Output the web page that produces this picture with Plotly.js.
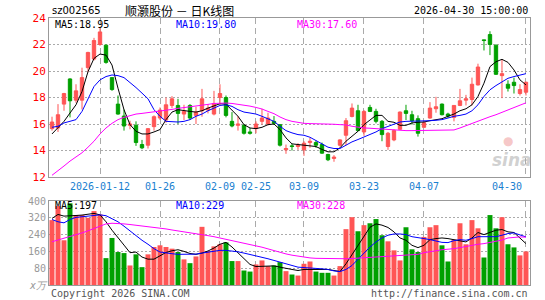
<!DOCTYPE html>
<html><head><meta charset="utf-8">
<script src="https://cdn.plot.ly/plotly-3.0.1.min.js"></script>
<style>html,body{margin:0;padding:0;background:#fff}#c{width:545px;height:300px}</style>
</head><body><div id="c"></div>
<script>
const dates = ["2025-12-29","2025-12-30","2025-12-31","2026-01-05","2026-01-06","2026-01-07","2026-01-08","2026-01-09",
"2026-01-12","2026-01-13","2026-01-14","2026-01-15","2026-01-16","2026-01-19","2026-01-20","2026-01-21","2026-01-22","2026-01-23",
"2026-01-26","2026-01-27","2026-01-28","2026-01-29","2026-01-30","2026-02-02","2026-02-03","2026-02-04","2026-02-05","2026-02-06",
"2026-02-09","2026-02-10","2026-02-11","2026-02-12","2026-02-13","2026-02-24","2026-02-25","2026-02-26","2026-02-27",
"2026-03-02","2026-03-03","2026-03-04","2026-03-05","2026-03-06","2026-03-09","2026-03-10","2026-03-11","2026-03-12","2026-03-13",
"2026-03-16","2026-03-17","2026-03-18","2026-03-19","2026-03-20","2026-03-23","2026-03-24","2026-03-25","2026-03-26","2026-03-27",
"2026-03-30","2026-03-31","2026-04-01","2026-04-02","2026-04-03","2026-04-07","2026-04-08","2026-04-09","2026-04-10",
"2026-04-13","2026-04-14","2026-04-15","2026-04-16","2026-04-17","2026-04-20","2026-04-21","2026-04-22","2026-04-23","2026-04-24",
"2026-04-27","2026-04-28","2026-04-29","2026-04-30"];

const openP = [15.65,15.7,17.5,19.4,17.8,17.8,20.25,20.9,22.0,21.95,
19.5,17.5,16.6,15.9,15.9,14.45,14.4,15.8,16.45,16.3,
17.4,17.4,16.75,17.4,16.65,17.0,17.05,16.75,18.0,18.0,
16.2,15.9,15.9,15.4,15.65,16.2,16.0,16.2,15.95,14.05,
14.35,14.3,14.05,14.6,14.6,14.45,13.7,13.4,14.4,15.15,
16.57,17.0,15.4,17.25,16.95,16.2,14.3,14.8,15.6,17.0,
16.7,16.4,15.75,16.45,17.15,17.5,16.75,16.5,17.4,17.8,
17.85,18.95,22.35,22.75,21.95,19.65,19.0,19.15,18.3,18.4];
const highP = [16.55,17.5,18.35,19.45,19.0,20.25,21.45,22.5,23.3,22.0,
19.5,18.15,17.1,16.25,16.2,14.8,15.7,16.65,17.25,18.0,
18.1,17.9,17.45,17.5,17.3,18.65,17.5,18.5,19.0,18.15,
16.9,16.6,16.0,15.7,16.2,17.15,16.85,16.6,16.0,14.45,
14.5,14.55,14.7,14.95,14.75,14.6,13.75,13.65,14.85,16.45,
17.55,17.45,17.05,17.45,17.15,16.3,15.4,15.6,16.95,17.45,
17.0,16.65,16.25,17.65,18.05,17.55,16.85,17.4,18.65,18.2,
19.5,20.55,22.35,23.0,22.0,20.9,19.3,19.5,19.0,19.2];
const lowP = [15.5,15.4,17.0,16.5,17.6,17.1,19.9,20.8,21.9,20.55,
18.5,16.7,15.5,15.6,14.35,14.1,14.15,15.5,16.3,16.1,
17.2,16.0,16.3,16.3,16.0,16.55,16.8,16.65,17.45,16.5,
15.75,15.5,15.2,15.2,15.3,15.95,15.9,15.95,14.3,13.75,
14.0,14.05,13.6,14.2,14.2,13.75,13.2,13.15,14.3,14.4,
16.5,15.45,15.1,16.9,16.05,14.7,14.05,14.7,15.55,16.3,
15.95,15.05,15.7,16.4,16.85,16.65,16.45,16.2,17.35,17.4,
17.4,18.9,21.55,21.2,19.7,17.95,18.45,18.3,18.15,18.15];
const closeP = [16.15,16.7,18.3,17.75,18.5,19.5,21.4,22.3,22.95,20.65,
18.6,16.75,15.85,16.0,14.6,14.2,15.65,16.55,17.05,17.45,
17.9,16.8,16.95,16.45,16.9,17.9,17.2,17.55,18.3,16.65,
15.85,16.0,15.3,15.3,16.0,16.45,16.45,16.05,14.4,14.15,
14.3,14.4,14.55,14.7,14.4,13.8,13.3,13.5,14.8,16.25,
17.2,15.5,16.95,16.95,16.2,15.2,15.3,15.5,16.9,16.8,
16.25,15.3,16.1,17.2,17.3,16.7,16.6,17.4,17.75,17.9,
19.0,20.3,22.3,22.0,19.75,19.8,18.7,18.9,18.6,19.15];

const ma5 = [15.25,15.7,16.2,16.83,17.45,18.45,19.95,20.95,21.28,21.2,
20.45,18.7,17.08,15.95,15.45,15.25,15.25,15.4,15.58,16.33,
16.9,17.08,17.0,16.95,16.9,17.0,17.2,17.38,17.53,17.5,
17.0,16.58,15.95,15.7,15.65,15.75,15.95,16.0,15.58,14.95,
14.5,14.45,14.4,14.4,14.3,14.08,13.9,13.9,14.2,14.7,
15.08,15.45,15.95,16.33,16.65,16.65,16.2,16.13,15.9,15.9,
16.08,16.13,16.15,16.25,16.33,16.4,16.58,16.75,17.0,17.15,
17.45,18.08,19.08,20.33,20.7,20.88,20.65,20.08,19.33,18.95];
const ma10 = [15.75,15.83,16.08,16.2,16.33,16.95,17.95,18.83,19.33,19.58,
19.7,19.65,19.5,19.15,18.75,18.33,17.9,17.08,16.58,16.2,
16.15,16.15,16.2,16.33,16.58,16.75,17.0,17.2,17.4,17.45,
17.33,17.08,16.9,16.83,16.75,16.58,16.4,16.2,15.83,15.5,
15.33,15.2,15.15,15.0,14.75,14.5,14.25,14.15,14.15,14.4,
14.65,14.83,15.0,15.2,15.4,15.65,15.83,16.0,16.15,16.2,
16.2,16.2,16.2,16.25,16.28,16.33,16.45,16.58,16.65,16.75,
17.0,17.45,18.08,18.58,18.9,19.15,19.45,19.58,19.7,19.8];
const ma30 = [12.13,12.45,12.83,13.2,13.5,13.83,14.25,14.7,15.25,15.7,
16.05,16.33,16.5,16.63,16.75,16.8,16.85,16.9,16.95,17.05,
17.1,17.18,17.23,17.28,17.33,17.4,17.48,17.55,17.58,17.58,
17.55,17.5,17.43,17.35,17.25,17.13,16.95,16.78,16.53,16.33,
16.2,16.1,16.05,16.03,16.03,16.0,16.0,15.98,15.95,15.93,
15.83,15.75,15.7,15.68,15.65,15.63,15.58,15.53,15.5,15.5,
15.5,15.5,15.5,15.5,15.53,15.53,15.55,15.55,15.7,15.88,
16.05,16.2,16.38,16.55,16.7,16.88,17.05,17.25,17.43,17.6];

const volume = [309,376,213,389,333,333,320,352,336,128,
224,157,152,93,146,85,146,181,189,181,
173,157,122,104,136,277,162,184,194,203,
114,114,69,64,98,117,90,93,109,66,
50,45,101,112,64,58,58,45,90,266,
323,256,285,294,314,237,208,165,117,275,
170,157,229,275,285,189,112,216,294,194,
309,270,131,333,270,323,194,179,141,160];
const volMa5 = [317,336,328,328,331,333,336,341,334,301,
261,228,190,154,157,133,123,123,141,155,
163,168,160,150,146,152,162,176,194,203,
181,152,123,98,88,88,88,91,85,78,
74,69,74,74,74,74,74,69,64,101,
144,192,234,275,291,285,274,253,224,213,
189,178,189,216,221,224,221,216,213,205,
224,250,240,250,261,264,253,250,224,197];
const volMa10 = [312,301,296,312,322,325,328,333,334,330,
317,301,280,258,232,213,194,173,157,152,
149,146,146,146,147,152,157,162,165,165,
163,158,152,146,139,133,125,117,109,101,
94,85,83,82,80,77,74,67,64,74,
93,122,154,181,205,224,237,243,243,240,
230,224,221,216,208,203,202,211,216,213,
221,230,230,229,230,237,245,248,240,229];
const volMa30 = [206,214,222,230,238,248,258,269,282,291,
294,294,291,288,285,282,278,275,270,267,
262,258,253,248,243,240,235,230,224,218,
211,206,200,194,187,180,172,163,155,148,
142,137,132,129,127,126,125,125,125,125,
126,128,130,131,133,134,138,139,141,142,
144,146,154,160,163,168,170,173,178,184,
189,194,197,202,208,214,224,227,229,228];

const tickDates = ["2026-01-12","2026-01-26","2026-02-09","2026-02-25","2026-03-09","2026-03-23","2026-04-07","2026-04-30"];
const tickLabels = ["2026-01-12","01-26","02-09","02-25","03-09","03-23","04-07","04-30"];
const priceTicks = [12,14,16,18,20,22,24];
const volTicks = [0,80,160,240,320,400];
const volTickLabels = ["<i>x万</i>","80","160","240","320","400"];

const UP = "#ff5555", DOWN = "#00a000";
const MONO = "DejaVu Sans Mono";
const DATE_BLUE = "#1a80d0";
const volColors = closeP.map((c, i) => c >= openP[i] ? UP : DOWN);

const traces = [
  {type:"candlestick", x:dates, open:openP, high:highP, low:lowP, close:closeP, xaxis:"x", yaxis:"y",
   increasing:{line:{color:UP,width:1}, fillcolor:UP}, decreasing:{line:{color:DOWN,width:1}, fillcolor:DOWN},
   whiskerwidth:0, hoverinfo:"skip"},
  {type:"scatter", mode:"lines", x:dates, y:ma5, xaxis:"x", yaxis:"y", line:{color:"#000000", width:1}, hoverinfo:"skip"},
  {type:"scatter", mode:"lines", x:dates, y:ma10, xaxis:"x", yaxis:"y", line:{color:"#0000ff", width:1}, hoverinfo:"skip"},
  {type:"scatter", mode:"lines", x:dates, y:ma30, xaxis:"x", yaxis:"y", line:{color:"#ff00ff", width:1}, hoverinfo:"skip"},
  {type:"bar", x:dates, y:volume, xaxis:"x2", yaxis:"y2", marker:{color:volColors, line:{width:0}}, hoverinfo:"skip"},
  {type:"scatter", mode:"lines", x:dates, y:volMa5, xaxis:"x2", yaxis:"y2", line:{color:"#000000", width:1}, hoverinfo:"skip"},
  {type:"scatter", mode:"lines", x:dates, y:volMa10, xaxis:"x2", yaxis:"y2", line:{color:"#0000ff", width:1}, hoverinfo:"skip"},
  {type:"scatter", mode:"lines", x:dates, y:volMa30, xaxis:"x2", yaxis:"y2", line:{color:"#ff00ff", width:1}, hoverinfo:"skip"}
];

const lastIdx = tickLabels.length - 1;
const xCommon = {type:"category", range:[-0.5, 79.67], tickvals:tickDates,
  showgrid:true, gridcolor:"#aaaaaa", griddash:"6px,4px", gridwidth:1,
  showline:true, mirror:true, linecolor:"#999999", linewidth:1, ticks:"", zeroline:false,
  rangeslider:{visible:false}, fixedrange:true};

const ann = (text, px, py, xanchor, color, size, family) => ({
  text, xref:"paper", yref:"paper", x:(px-49)/481, y:(285-py)/267, xanchor, yanchor:"middle",
  showarrow:false, font:{family:family||MONO, size:size||10, color:color||"#000"}
});

const layout = {
  width:545, height:300, margin:{l:49, r:15, t:18, b:15},
  paper_bgcolor:"#fff", plot_bgcolor:"#fff", showlegend:false, hovermode:false,
  boxgap:0.2, bargap:0.17,
  xaxis: Object.assign({}, xCommon, {anchor:"y", domain:[0,1],
    ticktext: tickLabels.map((t, i) => i === lastIdx ? "" : t),
    tickfont:{family:MONO, size:10, color:DATE_BLUE}}),
  xaxis2: Object.assign({}, xCommon, {anchor:"y2", domain:[0,1], showticklabels:false}),
  yaxis: {domain:[0.4045,1], range:[12,24], tickvals:priceTicks, ticktext:priceTicks.map(String),
    tickfont:{family:MONO, size:11, color:"#ff0000"}, showgrid:true, gridcolor:"#aaaaaa", griddash:"2px,2px",
    showline:true, mirror:true, linecolor:"#999999", linewidth:1, ticks:"", zeroline:false, fixedrange:true},
  yaxis2: {domain:[0,0.3146], range:[0,400], tickvals:volTicks, ticktext:volTickLabels,
    tickfont:{family:MONO, size:10, color:"#999999"}, showgrid:true, gridcolor:"#aaaaaa", griddash:"2px,2px",
    showline:true, mirror:true, linecolor:"#999999", linewidth:1, ticks:"", zeroline:false, fixedrange:true},
  annotations:[
    {text:tickLabels[lastIdx], xref:"x", yref:"paper", x:tickDates[lastIdx], y:(285-186)/267,
     xanchor:"right", yanchor:"middle", xshift:-2, showarrow:false,
     font:{family:MONO, size:10, color:DATE_BLUE}},
    ann("sz002565", 50, 11, "left", "#000", 10, "DejaVu Sans"),
    ann("顺灏股份 － 日K线图", 179, 11, "center", "#000", 12, "Noto Sans CJK SC"),
    ann("2026-04-30 15:00:00", 530, 11, "right", "#000", 10),
    ann("MA5:18.95", 53, 24, "left", "#000000"),
    ann("MA10:19.80", 174, 24, "left", "#0000ff"),
    ann("MA30:17.60", 295, 24, "left", "#ff00ff"),
    ann("MA5:197", 53, 206, "left", "#000000"),
    ann("MA10:229", 174, 206, "left", "#0000ff"),
    ann("MA30:228", 295, 206, "left", "#ff00ff"),
    ann("Copyright 2026 SINA.COM", 49, 293, "left", "#555555"),
    ann("http://finance.sina.com.cn", 530, 293, "right", "#555555"),
    ann("<b><i>sina</i></b>", 512, 160, "center", "rgba(170,170,170,0.55)", 17, "DejaVu Sans"),
    ann("●", 508, 141, "center", "rgba(235,130,130,0.45)", 12, "DejaVu Sans")
  ]
};

Plotly.newPlot("c", traces, layout, {staticPlot:true, displayModeBar:false});
</script></body></html>
